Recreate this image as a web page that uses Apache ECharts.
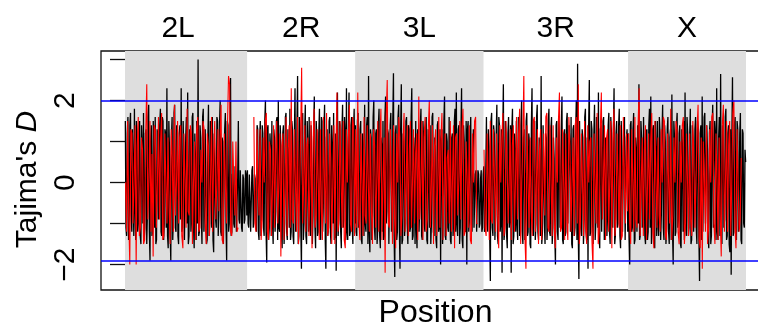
<!DOCTYPE html>
<html>
<head>
<meta charset="utf-8">
<script src="https://cdn.jsdelivr.net/npm/echarts@6/dist/echarts.min.js"></script>
<style>
  html, body { margin: 0; padding: 0; background: #fff; }
  #chart { width: 758px; height: 326px; }
</style>
</head>
<body>
<div id="chart"></div>
<script>
// chromosome arms and their lengths (Mb)
var chroms = ['2L', '2R', '3L', '3R', 'X'];
var chromLen = [23.4, 20.7, 24.6, 27.7, 22.6];

// Tajima's D per window, black population
var b2L = [1.5, -1.1, -1.3, 1.2, 1.6, -1.4, -0.9, 1.4, 1.7, -0.8, -1.2, 1.3, 0.4, -1.3, 1.8, -0.6, -1.4, 1.5, 1.2, -1.2,
  -1.0, 1.1, 1.5, -1.3, -1.5, 1.4, 0.9, -1.0, 1.7, -1.4, -1.1, 1.2, 1.3, -1.5, -0.7, 1.6, 1.9, -1.2, -1.9, 1.0,
  1.4, -1.3, -1.2, 1.5, 0.6, -1.1, 1.6, -1.5, -1.4, 1.3, 1.1, -0.9, -0.5, 1.4, 1.8, -1.2, -1.3, 1.6, 1.5, -1.4,
  -1.0, 1.3, 1.2, -1.1, 2.3, -1.3, -1.6, 1.5, 0.8, -1.2, -1.9, 1.1, 1.6, -1.4, -0.8, 1.7, 1.9, -1.1, -1.2, 1.4,
  1.0, -1.3, -1.5, 1.2, 1.4, -0.9, 2.3, -1.2, -1.1, 1.5, 0.7, -1.4, -1.4, 1.1, 1.6, -1.0, 2.2, -1.5, -1.3, 1.3,
  1.2, -1.2, -0.9, 1.6, 1.7, -1.1, -1.6, 1.2, 0.5, -1.4, 1.5, -1.0, 3.0, -1.3, -1.2, 1.4, 1.1, -0.8, -1.5, 1.6,
  1.8, -1.2, -0.6, 1.3, 1.3, -1.5, -1.4, 1.0, 1.9, -1.3, -1.0, 1.5, 0.9, -1.1, 1.6, -1.4, -1.7, 1.2, 1.2, -0.9,
  -1.1, 1.6, 1.5, -1.3, -0.8, 1.4, 2.0, -1.2, -1.3, 1.1, 1.0, -1.5, -1.5, 1.3, 1.7, -1.0, -1.9, 1.5, 1.4, -1.2,
  -1.0, 1.2, 2.55, -1.3, -1.2, 0.2, 0.3, -1.0, -1.1, 0.4, 0.2, -1.2, -1.2, 0.1, 1.5, -0.9, -1.0, 0.3, 0.3, -1.1,
  -1.2, 0.2, 0.1, -1.0, -0.9, 0.3, 0.2, -0.8];
var b2R = [0.3, -1.0, -1.1, 0.2, 0.2, -1.2, -1.2, 0.3, 0.4, -1.1, -0.9, 0.2, 0.1, -1.0, -1.2, 1.4, 1.3, -1.2, -1.4, 1.1,
  1.5, -1.3, -0.8, 1.4, 1.2, -1.1, -1.3, 1.5, 2.0, -1.2, -1.95, 1.3, 1.4, -1.4, -1.1, 1.2, 0.8, -1.3, 1.5, -1.0,
  -1.5, 1.3, 1.1, -1.2, -0.7, 1.5, 1.6, -1.4, 2.0, -1.1, -1.2, 1.4, 0.9, -1.3, -1.6, 1.2, 1.4, -1.5, -1.0, 1.6,
  1.7, -1.2, -1.4, 1.3, 0.6, -1.1, 1.8, -1.4, -1.2, 1.5, 1.3, -1.3, -1.5, 1.1, 2.3, -1.2, -0.9, 1.4, 2.6, -1.5,
  -1.3, 1.6, 1.2, -1.1, -2.1, 1.3, 1.7, -1.4, -1.0, 1.2, 1.9, -1.3, -1.5, 1.5, 0.7, -1.2, 1.6, -1.0, -1.3, 1.4,
  1.4, -1.5, -0.8, 1.3, 2.1, -1.1, -1.6, 1.5, 1.0, -1.3, -1.2, 1.2, 1.8, -1.0, -1.4, 1.6, 1.5, -1.2, -0.6, 1.3,
  1.9, -1.4, -2.1, 1.1, 1.3, -1.3, -1.1, 1.5, 1.6, -1.2, -1.5, 1.4, 0.8, -1.0, 1.7, -1.4, -1.3, 1.2, -2.15, 1.0,
  2.2, -1.3, -1.0, 1.5, 1.4, -1.2, -1.6, 1.3, 1.9, -1.1, -0.9, 1.6, 1.2, -1.4, 2.3, -1.2, -1.4, 1.1, 2.2, -1.3,
  -1.2, 1.4, 1.6, -1.1, -1.5, 1.3, 1.8, -1.0];
var b3L = [1.4, -1.2, -1.3, 1.5, 1.7, -1.1, -1.0, 1.3, 1.5, -1.4, -1.5, 1.2, 0.8, -1.3, 1.9, -1.0, -1.2, 1.4, 1.6, -1.5,
  2.6, -1.2, -1.7, 1.3, 1.1, -1.4, -0.8, 1.6, 2.0, -1.1, -1.4, 1.2, 1.3, -1.5, -1.1, 1.4, 1.8, -1.3, -1.6, 1.1,
  0.9, -1.2, 1.5, -1.4, -1.3, 1.6, 2.1, -1.0, -0.7, 1.3, 1.2, -1.5, -1.5, 1.4, 1.7, -1.2, -1.0, 1.5, 2.67, -1.3,
  -2.3, 1.2, 1.4, -1.4, -1.2, 1.6, 1.9, -1.1, -2.1, 1.3, 2.4, -1.5, -1.4, 1.2, 1.0, -1.3, -0.9, 1.5, 1.6, -1.0,
  -1.5, 1.4, 1.3, -1.2, -1.1, 1.6, 2.3, -1.4, -1.3, 1.1, 0.7, -1.5, 1.5, -1.1, -1.6, 1.3, 1.2, -1.2, -0.6, 1.4,
  1.8, -1.3, -1.4, 1.5, 1.1, -1.0, -1.2, 1.2, 1.6, -1.4, -1.5, 1.3, 0.5, -1.1, 1.4, -1.5, -1.0, 1.6, 1.7, -1.2,
  -1.3, 1.1, 0.9, -1.4, -1.6, 1.4, 1.5, -1.2, -1.1, 1.3, -2.0, 1.0, 1.3, -1.5, -0.8, 1.5, 2.1, -1.3, -1.4, 1.2,
  1.0, -1.1, -1.2, 1.6, 1.6, -1.4, -1.5, 1.1, 1.2, -1.3, -0.9, 1.5, 1.8, -1.2, 2.2, -1.0, -1.3, 1.3, 1.4, -1.5,
  -1.1, 1.2, 2.3, -1.4, -1.6, 1.4, 1.0, -1.1, -1.2, 1.5, -2.0, 1.3, 1.5, -1.2, -0.9, 1.1, 1.6, -1.0, -1.2, 0.4,
  1.3, -1.1, -1.1, 0.2, 0.3, -1.2, -1.2, 0.3, 0.2, -1.1, -1.0, 0.1, 0.3, -1.2, -1.1, 0.2];
var b3R = [0.4, -1.2, -1.1, 0.3, 1.6, -1.0, -1.2, 1.3, 0.9, -1.3, -2.4, 1.5, 1.7, -1.1, -1.3, 1.4, 1.2, -1.4, -0.8, 1.2,
  1.9, -1.3, -1.5, 1.6, 1.4, -1.2, -1.0, 1.3, -2.2, 1.1, 2.4, -1.4, -1.2, 1.5, 1.1, -1.3, -1.6, 1.2, 1.6, -1.1,
  -0.9, 1.4, -2.2, 1.3, 1.8, -1.5, -1.3, 1.2, 0.7, -1.2, 1.5, -1.0, -1.4, 1.6, 1.2, -1.3, -1.1, 1.4, 2.0, -1.2,
  -1.5, 1.1, 1.3, -1.4, -0.7, 1.5, 1.7, -1.3, -1.2, 1.2, 1.0, -1.5, -1.6, 1.4, 2.3, -1.1, -1.3, 1.3, 1.5, -1.4,
  -1.0, 1.6, 1.9, -1.2, -1.4, 1.1, 0.8, -1.3, 2.6, -1.5, -1.2, 1.4, 1.4, -1.0, -1.5, 1.2, 1.1, -1.4, -0.9, 1.5,
  1.8, -1.2, -1.3, 1.3, 1.6, -1.5, -1.1, 1.1, 0.6, -1.3, -2.0, 1.4, 1.5, -1.2, -1.4, 1.6, 1.2, -1.1, -0.8, 1.3,
  2.1, -1.4, -1.5, 1.2, 1.3, -1.3, -1.2, 1.5, 1.7, -1.0, -1.0, 1.4, 0.9, -1.2, 1.6, -1.5, -1.6, 1.3, 1.4, -1.3,
  -1.1, 1.2, 2.0, -1.4, 2.9, -1.2, -2.35, 1.5, 1.5, -1.1, -1.3, 1.3, 1.1, -1.5, -0.9, 1.6, 1.8, -1.2, -1.4, 1.1,
  -2.1, 1.4, 2.5, -1.3, -1.2, 1.5, 1.3, -1.0, -1.5, 1.2, 1.9, -1.4, -1.0, 1.6, 0.7, -1.1, 2.2, -1.3, -1.6, 1.3,
  1.4, -1.2, -1.2, 1.5, 1.6, -1.4, -1.4, 1.1, 1.0, -1.3, -0.8, 1.4, 1.7, -1.2, -1.5, 1.6, 1.2, -1.0, -1.1, 1.3,
  2.3, -1.5, -1.3, 1.2, 1.5, -1.1, -1.0, 1.4, 1.8, -1.3, -1.6, 1.5, 0.9, -1.2, -1.2, 1.3, 1.6, -1.4, -1.4, 1.1,
  1.3, -1.2];
var bX = [1.2, -1.3, -2.0, 1.4, 1.5, -1.2, -1.1, 1.3, 1.7, -1.5, -1.4, 1.1, 0.8, -1.2, 1.4, -1.0, 2.4, -1.4, -1.3, 1.5,
  1.1, -1.1, -0.9, 1.6, 1.6, -1.3, -1.5, 1.2, 1.3, -1.4, -1.2, 1.4, 1.8, -1.1, 2.1, -1.5, -1.0, 1.3, 1.4, -1.2,
  -1.6, 1.5, 0.7, -1.3, 1.5, -1.0, -1.3, 1.6, 1.2, -1.4, -0.8, 1.2, 1.9, -1.1, -1.4, 1.4, 1.0, -1.5, -1.1, 1.3,
  1.6, -1.2, -1.5, 1.1, 1.3, -1.4, 2.15, -1.2, -2.0, 1.5, 1.1, -1.3, -1.2, 1.4, 1.7, -1.1, -0.9, 1.2, 1.4, -1.5,
  -1.6, 1.3, 0.9, -1.2, 1.5, -1.4, 2.2, -1.0, -1.3, 1.6, 1.2, -1.3, -1.1, 1.1, 1.8, -1.5, -1.4, 1.4, 1.0, -1.2,
  -0.7, 1.3, 1.6, -1.1, -1.5, 1.5, 1.3, -1.3, -2.4, 1.2, 1.4, -1.4, 2.1, -1.2, -1.2, 1.6, 1.7, -1.0, -1.0, 1.4,
  0.8, -1.3, -1.6, 1.2, 1.5, -1.5, -1.3, 1.3, 1.9, -1.1, -1.1, 1.5, 1.2, -1.4, 2.3, -1.2, -1.4, 1.1, 1.6, -1.3,
  2.65, -1.2, -1.5, 1.4, 1.1, -1.1, -0.9, 1.6, 1.8, -1.4, -1.3, 1.2, 1.4, -1.5, -1.7, 1.3, -2.25, 1.0, 2.57, -1.3,
  -1.2, 1.4, 1.6, -1.1, -1.4, 1.5, 1.3, -1.2, -1.0, 1.2, 1.7, -1.4, -1.5, 1.3, 1.2, -1.0, -1.1, 0.8, 0.5];

// Tajima's D per window, red population (null = no estimate)
var r2L = [0, -1.2, 1.5, -0.8, -2.0, 1.3, 1.2, -1.0, 0, 1.4, -2.0, 0.9, 1.6, -1.3, -1.1, 1.1, 0.8, -1.5, -1.4, 1.2,
  2.4, -0.9, 0, 1.5, -1.2, 0.7, -1.8, 1.4, 1.3, -1.1, 0, 1.6, -0.9, 1.0, 1.7, -1.4, -1.3, 1.2, 0, -1.0,
  1.1, -0.6, -1.5, 1.3, 0.6, -1.2, 1.9, -0.8, 0, 1.5, -1.0, 1.1, 1.4, -1.3, -1.6, 1.2, 0, -1.1, 1.8, -0.7,
  -0.8, 1.4, 1.2, -1.5, 0, 1.0, -1.4, 1.3, 1.6, -1.2, -1.1, 0.8, 0, 1.5, 1.3, -1.0, -1.5, 1.2, 0.9, -1.3,
  0, 1.6, -1.2, 0.7, 1.5, -0.9, 0, 1.3, -0.7, 1.1, 1.9, -1.4, -1.5, 1.2, 0, -1.0, 1.4, 2.6, 2.4, -1.2,
  -1.3, 1.0, 0, -0.8, 1.0, -1.2, -1.1, null, null, null, null, null, null, null, null];
var r2R = [null, null, null, null, null, null, 1.6, -1.0, -1.2, 1.3, 0, -0.8, 1.3, -1.4, -0.9, 1.1, 0, 1.5, 1.7, -1.2,
  -1.4, 1.0, 0.8, -1.3, 0, 1.4, -1.1, 0.7, 1.5, -1.0, 0, 1.2, -1.8, 0.9, 1.2, -1.4, 0, 1.6, -1.3, 0.8,
  1.4, -1.1, 2.3, -0.9, -1.0, 1.3, 0, -1.2, 1.6, -1.5, -1.5, 1.1, 2.8, -1.0, 0, 1.4, -1.2, 0.9, 1.1, -1.3,
  0, 1.5, -1.6, 1.0, 1.8, -1.1, -0.8, 1.3, 0, -1.4, 1.3, -0.7, -1.4, 1.6, 0, -1.0, 1.7, -1.3, -1.1, 1.2,
  0.6, -1.5, 0, 1.4, -1.5, 0.8, 2.2, -1.2, -0.9, 1.5, 0, -1.1, 1.5, -1.4, -1.6, 1.3, 0, 1.1, 1.9, -1.0,
  -1.2, 1.6, 1.4, -1.3];
var r3L = [1.3, -1.1, 2.2, -0.9, -1.4, 1.2, 0, -1.3, 1.6, -0.8, -1.0, 1.4, 0, -1.2, 1.2, -0.7, -1.5, 1.3, 0.9, -1.1,
  0, 1.5, -1.2, 1.0, 1.8, -1.4, 0, 1.1, -2.2, 1.6, 2.5, -1.0, -1.1, 1.3, 0, -1.5, 1.4, -0.9, -1.6, 1.2,
  0, 1.6, 1.1, -1.3, -0.8, 1.0, 1.7, -1.2, 0, 1.4, -1.3, 0.8, 1.5, -1.1, 0, 1.3, -1.0, 0.7, 1.2, -1.4,
  2.1, -0.9, 0, 1.5, -1.4, 1.1, 1.6, -1.2, -0.9, 1.3, 2.0, -1.1, 0, 1.4, -1.5, 0.9, 1.3, -1.3, 0, 1.6,
  -1.1, 1.0, 1.7, -1.4, 0, 1.2, -1.3, 0.6, 0.8, -1.0, 1.5, -1.2, 0, 1.4, -1.6, 1.1, 1.2, -0.8, 0, 1.5,
  -0.9, 1.3, 1.8, -1.3, -1.2, 1.0, 0, -1.1, 1.4, -1.4, -1.5, 1.2, 0, 1.5, 1.6, -1.0, -1.0, null, null, null,
  null, null];
var r3R = [0.8, -1.1, -1.3, 1.2, 0, -1.4, 1.5, -0.9, -1.0, 1.3, 0, -1.2, 1.2, -0.8, -1.6, 1.4, 0, 1.1, 1.7, -1.3,
  -1.1, 1.5, 0.6, -1.0, 0, 1.3, -1.4, 0.9, 1.4, -1.2, 0, 1.6, -0.9, 1.2, 1.8, -1.5, 0, 1.0, 2.6, -1.3,
  -2.1, 1.4, 0, -1.1, 1.1, -0.7, -1.3, 1.5, 1.6, -1.2, 0, 1.3, -1.5, 0.8, 1.3, -1.4, 0, 1.2, -0.8, 1.6,
  1.7, -1.1, -1.2, 1.4, 0, -1.3, 1.4, -1.0, -1.6, 1.1, 0, 1.5, 2.2, -1.2, -1.1, 1.3, 0, -1.4, 1.2, -0.9,
  -1.4, 1.6, 0.9, -1.2, 0, 1.1, -1.3, 1.4, 1.6, -1.0, 2.4, -1.5, -1.0, 1.2, 0, -1.3, 1.5, -1.1, -1.5, 1.4,
  0, 1.0, 1.1, -1.4, -2.1, 1.2, 0, -1.0, 1.7, -1.5, -1.2, 1.3, 2.2, -0.9, 0, 1.4, -1.4, 1.1, 1.3, -1.2,
  0, 1.5, -1.6, 1.0, 1.8, -1.3, -0.9, 1.2, 0, -1.1, 1.4, -1.4, -1.3, 1.6, 0, -1.0, 1.2, -0.7];
var rX = [1.2, -1.0, -1.5, 1.3, 0, -1.2, 1.6, -0.9, -1.1, 1.4, 2.3, -1.3, 0, 1.1, -1.3, 0.8, 1.4, -1.4, 0, 1.2,
  -0.9, 1.0, 1.7, -1.2, -1.6, 1.5, 0, -1.1, 1.1, -0.8, -1.2, 1.3, 0, 1.6, 1.5, -1.3, -1.4, 1.2, 0, -1.0,
  1.8, -1.4, -0.8, 1.1, 0, 1.5, 1.3, -1.2, -1.5, 1.0, 0, 1.4, 1.6, -1.5, -1.0, 1.2, 0, -1.3, 1.2, -0.9,
  -1.3, 1.5, 0.7, -1.1, 0, 1.3, 1.9, -1.4, -1.6, 1.1, -2.1, 1.0, 0, -1.2, 1.4, -1.5, -1.1, 1.3, 0, 1.6,
  1.7, -1.0, -1.5, 1.2, 0, -1.4, 1.1, -0.8, -1.8, 1.4, 1.9, -1.2, 0, 1.5, -1.2, 0.9, 1.5, -1.3, 0, 1.7,
  2.0, -1.1, -1.6, 1.3, 1.3, -1.2, -0.9, 0.6, null, null, null, null];

// significance thresholds
var thresholds = [2.0, -1.9];

var blackByChrom = [b2L, b2R, b3L, b3R, bX];
var redByChrom = [r2L, r2R, r3L, r3R, rX];

// cumulative start of each arm
var chromStart = [];
var acc = 0;
for (var i = 0; i < chroms.length; i++) {
  chromStart.push(acc);
  acc += chromLen[i];
}

// place windows evenly along each arm
function toPoints(list) {
  var pts = [];
  for (var c = 0; c < list.length; c++) {
    var vals = list[c];
    var step = chromLen[c] / vals.length;
    for (var k = 0; k < vals.length; k++) {
      pts.push([chromStart[c] + (k + 0.5) * step, vals[k]]);
    }
  }
  return pts;
}

var bands = chroms.map(function (name, i) {
  return [{
    name: name,
    xAxis: chromStart[i],
    itemStyle: { color: i % 2 === 0 ? '#DEDEDE' : 'rgba(0,0,0,0)' },
    label: { offset: i === 0 ? [-8, 0] : [0, 0] }
  }, {
    xAxis: chromStart[i] + chromLen[i]
  }];
});

var font = 'Liberation Sans, Arial, Helvetica, sans-serif';
var chart = echarts.init(document.getElementById('chart'), null, { renderer: 'canvas' });

chart.setOption({
  animation: false,
  grid: {
    left: 101,
    right: -12,
    top: 51,
    bottom: 36,
    outerBoundsMode: 'none',
    show: true,
    borderColor: '#111',
    borderWidth: 1.3,
    backgroundColor: 'transparent'
  },
  xAxis: {
    type: 'value',
    min: -4.6,
    max: 123.6,
    name: 'Position',
    nameLocation: 'middle',
    nameGap: 7,
    nameTextStyle: { fontFamily: font, fontSize: 32, color: '#000', verticalAlign: 'top' },
    axisLine: { show: false },
    axisTick: { show: false },
    axisLabel: { show: false },
    splitLine: { show: false }
  },
  yAxis: {
    type: 'value',
    min: -2.62,
    max: 3.21,
    name: '{a|Tajima\'s }{b|D}',
    nameLocation: 'middle',
    nameRotate: 90,
    nameGap: 58,
    nameTextStyle: {
      padding: [0, 18, 0, 0],
      rich: {
        a: { fontFamily: font, fontSize: 30, color: '#000' },
        b: { fontFamily: font, fontSize: 30, color: '#000', fontStyle: 'italic' }
      }
    },
    axisLine: { show: false },
    axisTick: {
      show: true,
      length: 15,
      customValues: [-2, -1, 0, 1, 2, 3],
      lineStyle: { color: '#111', width: 1.3 }
    },
    axisLabel: {
      customValues: [-2, 0, 2],
      rotate: 90,
      margin: 20,
      fontFamily: font,
      fontSize: 30,
      color: '#000',
      formatter: function (v) { return String(v).replace('-', '\u2212'); }
    },
    splitLine: { show: false }
  },
  series: [
    {
      type: 'line',
      data: [],
      z: 1,
      markArea: {
        silent: true,
        label: {
          show: true,
          position: 'top',
          distance: 7,
          fontFamily: font,
          fontSize: 30,
          color: '#000'
        },
        data: bands
      }
    },
    {
      name: 'black',
      type: 'line',
      z: 2,
      data: toPoints(blackByChrom),
      showSymbol: false,
      lineStyle: { color: '#000', width: 1.3 }
    },
    {
      name: 'red',
      type: 'line',
      z: 3,
      data: toPoints(redByChrom),
      showSymbol: false,
      connectNulls: false,
      lineStyle: { color: '#FF0000', width: 1.1 }
    },
    {
      type: 'line',
      data: [],
      z: 4,
      markLine: {
        silent: true,
        symbol: 'none',
        label: { show: false },
        lineStyle: { color: '#0000FF', width: 1.5, type: 'solid' },
        data: thresholds.map(function (t) { return { yAxis: t }; })
      }
    }
  ]
});
</script>
</body>
</html>
